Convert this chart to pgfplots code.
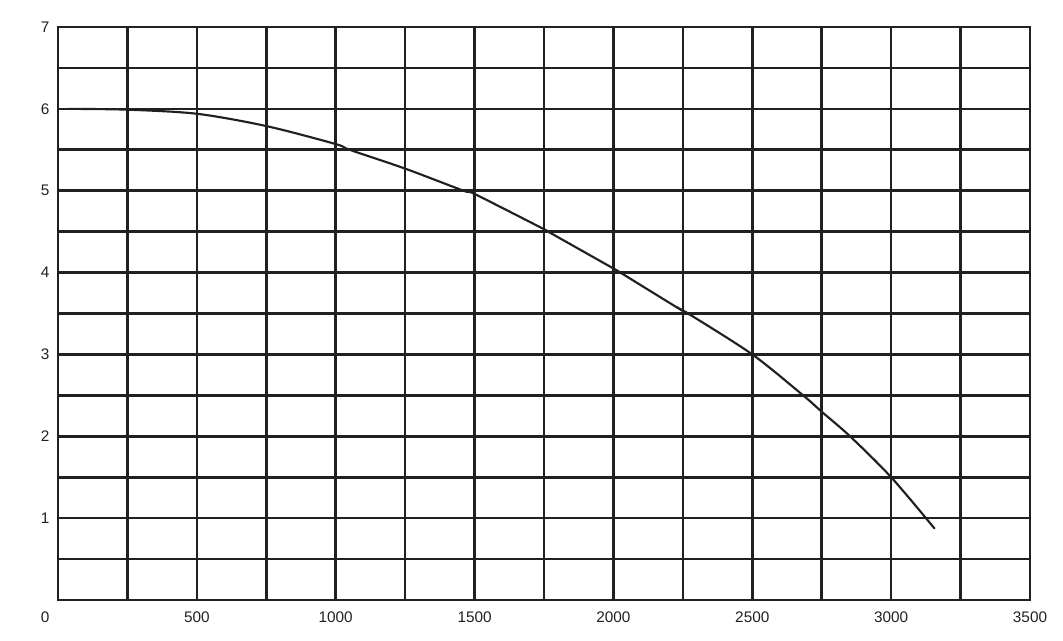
\documentclass[border=0pt]{standalone}
\usepackage{fontspec}
\setmainfont{Liberation Sans}
\usepackage{pgfplots}
\pgfplotsset{compat=1.18}
\definecolor{ink}{HTML}{231F20}
\begin{document}
\begin{tikzpicture}
\useasboundingbox (-43.5pt,-30pt) rectangle (753.75pt,450pt);
\begin{axis}[
  at={(0,0)}, anchor=south west,
  scale only axis,
  width=729pt, height=429.75pt,
  xmin=0, xmax=3500, ymin=0, ymax=7,
  xtick={0,500,...,3500},
  xticklabels={\makebox[0pt][r]{0\hspace{6.4pt}},500,1000,1500,2000,2500,3000,3500},
  minor xtick={250,750,...,3250},
  ytick={0,1,...,7},
  yticklabels={,1,2,3,4,5,6,7},
  minor ytick={0.5,1.5,...,6.5},
  major tick length=0pt, minor tick length=0pt,
  grid=both,
  major grid style={line width=2pt, color=ink},
  minor grid style={line width=2pt, color=ink},
  axis line style={line width=2pt, color=ink},
  tick label style={font=\fontsize{11.5}{13}\selectfont, text=ink},
  xticklabel style={yshift=-5.5pt},
  yticklabel style={xshift=-3pt},
  clip=false,
]
\addplot[color=ink, line width=1.6pt, smooth, tension=0.5] coordinates {
(36,6.00) (250,5.99) (500,5.94) (750,5.79) (1000,5.57) (1050,5.50)
(1250,5.27) (1460,5.00) (1500,4.96) (1750,4.53) (1765,4.50)
(2000,4.05) (2025,4.00) (2250,3.53) (2269,3.50) (2500,3.00)
(2683,2.50) (2750,2.30) (2852,2.00) (3000,1.50) (3157,0.87)
};
\end{axis}
\end{tikzpicture}
\end{document}
